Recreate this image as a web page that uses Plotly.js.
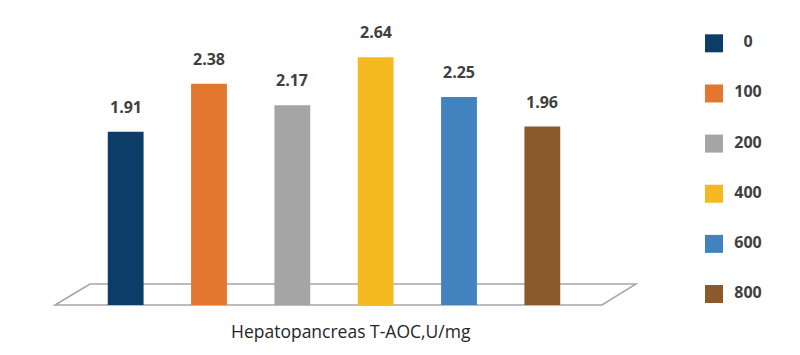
<!DOCTYPE html>
<html>
<head>
<meta charset="utf-8">
<script src="https://cdn.plot.ly/plotly-3.0.1.min.js"></script>
<style>html,body{margin:0;padding:0;background:#fff}#chart{width:800px;height:355px}</style>
</head>
<body>
<div id="chart"></div>
<script>
// Data
var categories = ['0', '100', '200', '400', '600', '800'];
var values = [1.91, 2.38, 2.17, 2.64, 2.25, 1.96];
var colors = ['#0c3d69', '#e3772f', '#a5a5a5', '#f4b91f', '#4282be', '#8b5a2b'];
var xTitle = 'Hepatopancreas T-AOC,U/mg';

var labelColor = '#404040';
var font = '"Open Sans", "DejaVu Sans", sans-serif';

var bars = {
  type: 'bar',
  x: categories,
  y: values,
  marker: {color: colors, line: {width: 0}},
  width: 0.43,
  showlegend: false,
  hoverinfo: 'none',
  xaxis: 'x', yaxis: 'y'
};

var legendMarkers = {
  type: 'scatter', mode: 'markers',
  x: categories.map(function(){ return 14; }),
  y: categories,
  marker: {symbol: 'square', size: 18, color: colors},
  showlegend: false, hoverinfo: 'none', cliponaxis: false,
  xaxis: 'x2', yaxis: 'y2'
};

var legendText = {
  type: 'scatter', mode: 'text',
  x: categories.map(function(){ return 48; }),
  y: categories,
  text: categories,
  textposition: 'middle center',
  textfont: {family: font, size: 16, color: labelColor, weight: 'bold'},
  showlegend: false, hoverinfo: 'none', cliponaxis: false,
  xaxis: 'x2', yaxis: 'y2'
};

var annotations = categories.map(function(c, i){
  return {
    x: i, y: values[i], xref: 'x', yref: 'y',
    text: values[i].toFixed(2),
    showarrow: false, yanchor: 'bottom', yshift: 12,
    font: {family: font, size: 16, color: labelColor, weight: 'bold'}
  };
});
annotations.push({
  x: 351 / 800, y: -0.09, xref: 'paper', yref: 'paper',
  text: xTitle, showarrow: false, yanchor: 'middle', xanchor: 'center',
  font: {family: font, size: 17.5, color: '#262626'}
});

var layout = {
  width: 800, height: 355,
  margin: {l: 0, r: 0, t: 20, b: 50},
  paper_bgcolor: '#ffffff', plot_bgcolor: 'rgba(0,0,0,0)',
  xaxis: {domain: [84 / 800, 584 / 800], type: 'category', range: [-0.5, 5.5],
          showgrid: false, zeroline: false, showline: false, showticklabels: false, ticks: ''},
  yaxis: {range: [0.209, 3.006], showgrid: false, zeroline: false, showline: false,
          showticklabels: false, ticks: ''},
  xaxis2: {domain: [700 / 800, 760 / 800], range: [0, 60], anchor: 'y2',
           visible: false, fixedrange: true},
  yaxis2: {domain: [0, 1], type: 'category', range: [5.219, -0.465], anchor: 'x2',
           visible: false, fixedrange: true},
  shapes: [{
    type: 'path', xref: 'paper', yref: 'paper', layer: 'below',
    path: 'M ' + (55/800) + ' 0 L ' + (90/800) + ' ' + (21/285) + ' L ' + (636/800) + ' ' + (21/285) +
          ' L ' + (602/800) + ' 0 Z',
    line: {color: '#a6a6a6', width: 1.5}, fillcolor: 'rgba(0,0,0,0)'
  }],
  annotations: annotations,
  showlegend: false
};

Plotly.newPlot('chart', [bars, legendMarkers, legendText], layout, {displayModeBar: false, staticPlot: true});
</script>
</body>
</html>
